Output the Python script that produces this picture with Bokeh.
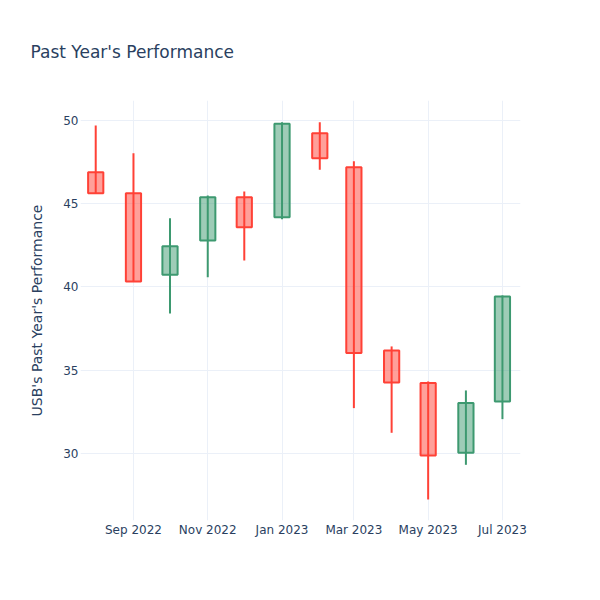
import pandas as pd
from bokeh.plotting import figure
from bokeh.models import Range1d, FixedTicker, DatetimeTickFormatter, ColumnDataSource
from bokeh.embed import file_html
from bokeh.resources import INLINE

# ---- data ----
dates = ["2022-08-01", "2022-09-01", "2022-10-01", "2022-11-01", "2022-12-01", "2023-01-01",
         "2023-02-01", "2023-03-01", "2023-04-01", "2023-05-01", "2023-06-01", "2023-07-01"]
open_ = [46.87, 45.60, 40.72, 42.77, 45.37, 44.17, 49.21, 47.17, 36.18, 34.22, 30.04, 33.12]
high = [49.67, 48.01, 44.11, 45.47, 45.71, 49.87, 49.87, 47.53, 36.42, 34.32, 33.78, 39.48]
low = [45.60, 40.31, 38.40, 40.57, 41.57, 44.05, 47.01, 32.72, 31.24, 27.24, 29.32, 32.06]
close = [45.60, 40.31, 42.43, 45.37, 43.57, 49.77, 47.71, 36.02, 34.26, 29.88, 33.02, 39.42]

tick_dates = ["2022-09-01", "2022-11-01", "2023-01-01", "2023-03-01", "2023-05-01", "2023-07-01"]
y_ticks = [30, 35, 40, 45, 50]

title_text = "Past Year's Performance"
y_label = "USB's Past Year's Performance"

INC_LINE = "#3D9970"
DEC_LINE = "#FF4136"
FONT = "DejaVu Sans"
TEXT_COLOR = "#2a3f5f"
GRID = "#EBF0F8"

df = pd.DataFrame({"date": pd.to_datetime(dates), "open": open_, "high": high,
                   "low": low, "close": close})
df["top"] = df[["open", "close"]].max(axis=1)
df["bottom"] = df[["open", "close"]].min(axis=1)
inc = df[df.close > df.open]
dec = df[df.close <= df.open]

x0 = pd.Timestamp("2022-07-19 12:00")
x1 = pd.Timestamp("2023-07-15 20:00")

p = figure(width=600, height=600, output_backend="svg", toolbar_location=None,
           x_axis_type="datetime",
           x_range=Range1d(x0, x1), y_range=Range1d(25.98, 51.17),
           min_border_left=80, min_border_right=80, min_border_top=100, min_border_bottom=80)

p.title.text = title_text
p.title.text_font = FONT
p.title.text_font_size = "17px"
p.title.text_font_style = "normal"
p.title.text_color = TEXT_COLOR
p.title.offset = -50
p.title.standoff = 78

p.outline_line_color = None
p.background_fill_color = "white"
p.border_fill_color = "white"

bar_w = pd.Timedelta(days=12.5).total_seconds() * 1000

for sub, col in ((inc, INC_LINE), (dec, DEC_LINE)):
    src = ColumnDataSource(sub)
    p.segment(x0="date", y0="high", x1="date", y1="low", source=src, line_color=col, line_width=2)
    p.vbar(x="date", top="top", bottom="bottom", width=bar_w, source=src,
           fill_color=col, fill_alpha=0.5, line_color=col, line_width=2)

p.xaxis.ticker = FixedTicker(ticks=[pd.Timestamp(d).value // 10**6 for d in tick_dates])
p.xaxis.formatter = DatetimeTickFormatter(months="%b %Y", days="%b %Y", years="%b %Y")
p.yaxis.ticker = FixedTicker(ticks=y_ticks)

for ax in (p.xaxis[0], p.yaxis[0]):
    ax.axis_line_color = None
    ax.major_tick_line_color = None
    ax.minor_tick_line_color = None
    ax.major_tick_out = 0
    ax.major_tick_in = 0
    ax.minor_tick_out = 0
    ax.minor_tick_in = 0
    ax.major_label_text_font = FONT
    ax.major_label_text_font_size = "12px"
    ax.major_label_text_color = TEXT_COLOR
    ax.major_label_standoff = 2

p.yaxis.axis_label = y_label
p.yaxis.axis_label_text_font = FONT
p.yaxis.axis_label_text_font_size = "14px"
p.yaxis.axis_label_text_font_style = "normal"
p.yaxis.axis_label_text_color = TEXT_COLOR
p.yaxis.axis_label_standoff = 15

p.xgrid.grid_line_color = GRID
p.ygrid.grid_line_color = GRID
p.xgrid.grid_line_width = 1
p.ygrid.grid_line_width = 1

open("out.html", "w").write(file_html(p, INLINE))
